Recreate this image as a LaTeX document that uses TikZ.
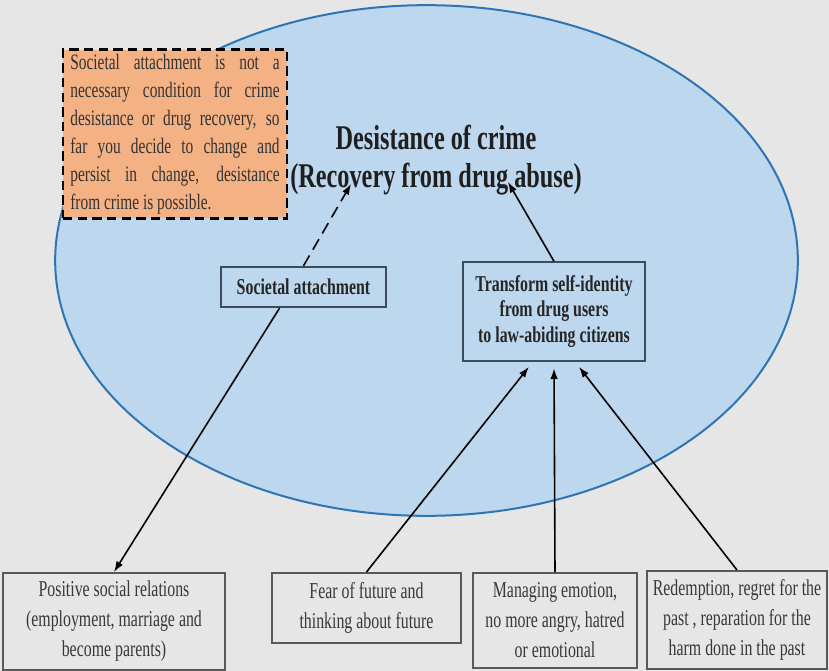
\documentclass[tikz,border=0pt]{standalone}
\usepackage{fontspec}
\setmainfont[FakeStretch=0.7]{Liberation Serif}
\usetikzlibrary{arrows.meta,positioning,shapes.geometric}
\definecolor{paper}{HTML}{E6E6E6}
\definecolor{goalfill}{HTML}{BDD7EE}
\definecolor{goalline}{HTML}{2E75B6}
\definecolor{notefill}{HTML}{F4B183}
\definecolor{pathline}{HTML}{3E4B5B}

\begin{document}
\begin{tikzpicture}[
  x=0.75pt, y=-0.75pt,
  every node/.style={font=\fontsize{17}{22.5}\selectfont},
  factor/.style={
    rectangle,
    draw=black!65,
    line width=1.4pt,
    align=center,
    text=black!78,
    inner sep=0pt,
    anchor=north
  },
  pathway/.style={
    rectangle,
    draw=pathline,
    line width=1.3pt,
    align=center,
    inner sep=0pt,
    text=black!85,
    font=\bfseries\fontsize{17}{19}\selectfont
  },
  arrow/.style={-{Latex[length=2.8mm,width=2mm]}, line width=1.2pt}
]
\fill[paper] (0,0) rectangle (829,671);

\node[ellipse, draw=goalline, fill=goalfill, line width=1.5pt, inner sep=0pt,
      minimum width=557pt, minimum height=383pt] (goal) at (426.5,260.5) {};
\node[font=\bfseries\fontsize{26}{28.5}\selectfont, align=center, text=black!88] (title) at (436,160)
  {Desistance of crime\\(Recovery from drug abuse)};

\node[rectangle, draw=black, fill=notefill, line width=2.2pt, dash pattern=on 7pt off 4pt,
      text width=157pt, align=justify, inner xsep=5.5pt, minimum height=126pt,
      text=black!80, font=\fontsize{16.5}{21}\selectfont] (note) at (175,134)
  {Societal attachment is not a\linebreak necessary condition for crime\linebreak desistance or drug recovery, so\linebreak far you decide to change and\linebreak persist in change, desistance\linebreak from crime is possible.};

\node[pathway, minimum width=124pt, minimum height=30.5pt] (societal) at (303.5,287) {Societal attachment};
\node[pathway, minimum width=136.5pt, minimum height=74pt] (transform) at (554,311.5)
  {Transform self-identity\\from drug users\\ to law-abiding citizens};

\node[factor, minimum width=166.5pt, minimum height=72.75pt] (positive) at (114,572)
  {Positive social relations\\(employment, marriage and\\become parents)};
\node[factor, minimum width=141.75pt, minimum height=52.5pt] (fear) at (366.5,572)
  {Fear of future and\\thinking about future};
\node[factor, minimum width=123pt, minimum height=71.25pt] (managing) at (555,572)
  {Managing emotion,\\no more angry, hatred\\or emotional};
\node[factor, minimum width=135pt, minimum height=73.5pt] (redemption) at (737,570)
  {Redemption, regret for the\\past , reparation for the\\harm done in the past};

\coordinate (tipleft) at (351,184);
\coordinate (tipright) at (508,182);

\draw[arrow, dash pattern=on 9pt off 5pt] (societal.north) -- (tipleft);
\draw[arrow] (transform.north) -- (tipright);
\draw[arrow] ([xshift=-18pt]societal.south) -- (positive.north);
\draw[arrow, shorten >=5pt] (fear.north) -- ([xshift=-15.75pt]transform.south);
\draw[arrow, shorten >=5pt] (managing.north) -- (transform.south);
\draw[arrow, shorten >=5pt] (redemption.north) -- ([xshift=15.75pt]transform.south);
\end{tikzpicture}
\end{document}
